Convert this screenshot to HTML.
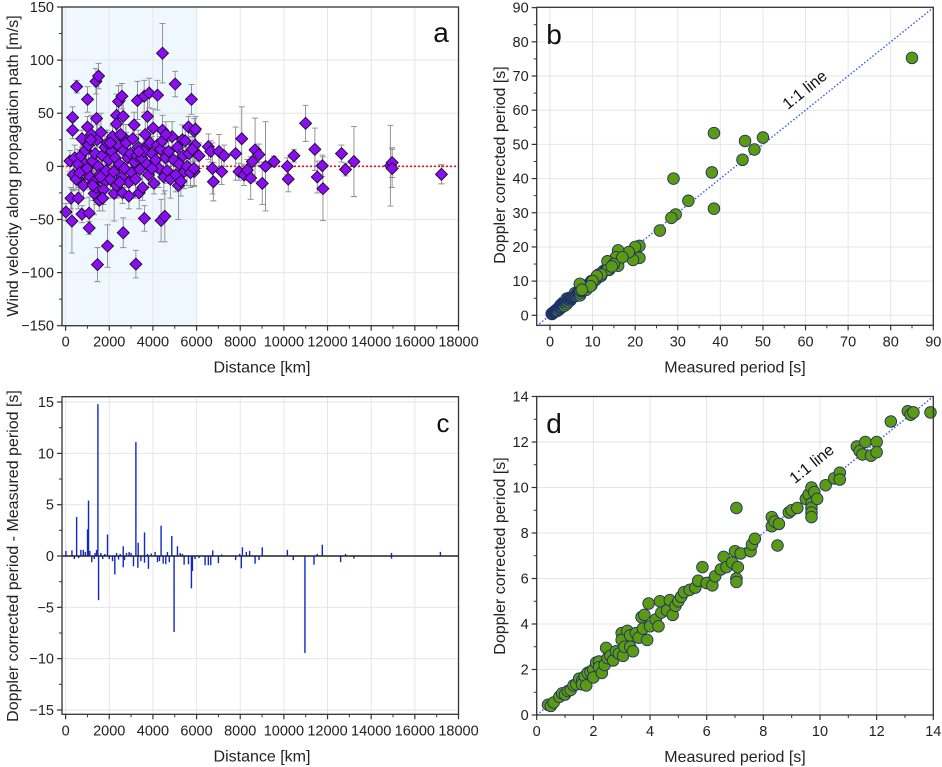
<!DOCTYPE html>
<html><head><meta charset="utf-8">
<style>
html,body{margin:0;padding:0;background:#fff;}
svg{display:block;font-family:"Liberation Sans",sans-serif;}
</style></head>
<body>
<svg id="fig" width="942" height="767" viewBox="0 0 942 767" xmlns="http://www.w3.org/2000/svg"></svg>
<script>
// ---------- Panel a data ----------
const aDist = [15,245,290,320,320,505,580,750,750,1005,1005,1080,1080,1390,1510,1420,1460,1920,2335,2335,2425,2580,2640,2640,3220,3290,3370,3600,3610,3750,3830,4210,4375,4440,4545,5020,5170,5765,5630,5890,5930,5890,5430,5350,4010,4440,3675,3140,2760,1815,2225,2610,1540,1310,930,625,850,
 200,350,420,480,560,650,700,820,900,980,1050,1120,1180,1230,1280,1350,1400,1450,1500,1560,1620,1680,1740,1800,1860,1920,1980,2050,2100,2150,2200,2270,2330,2400,2460,2520,2580,2650,2700,2780,2850,2900,2970,3030,3080,3150,3200,3260,3330,3400,3480,3530,3580,3650,3720,3800,3870,3950,4050,4120,4200,4280,4350,4430,4500,4580,4650,4720,4800,4880,4950,5050,5120,5200,5280,5380,5480,5560,5650,5720,5800,5880,5950,1250,1700,2050,2480,2900,3350,3950,4600,1150,1600,
 6115,6540,6650,6725,6770,7030,7150,7260,7790,7945,8070,8170,8320,8480,8555,8680,8860,9010,9160,9550,10160,10200,10460,10995,11420,11530,11760,11790,12640,12825,13210,14880,14960,14960,17220];
const aVel = [-43,-30,-51.5,46,34,75,-30,26,-45,63,37,-58,-44,80,85,45,-92.5,-75,48,40,61,66,47,-62.5,-92,62,-25,66,-49,47,69,67,-51,106.5,-47,77.5,-18,63,37,-5,20,33,-5,25,36,34,18.5,39,25.5,-14.5,-25.5,-25,-32,-25.5,-5,-13,3,
 5,-8,8,-12,2,-6,10,-18,15,-2,20,-10,30,5,-15,12,-20,25,0,-8,32,10,-22,18,-4,22,6,-12,14,28,-5,8,-18,20,2,30,-10,15,-2,22,8,-15,12,-6,26,4,-12,10,18,-3,8,-20,14,30,2,-8,22,12,-16,6,20,-2,16,24,-10,8,-4,14,-12,28,6,-8,18,2,-14,10,24,0,12,-6,16,-2,35,-18,-30,22,-15,-28,14,-2,30,25,-10,
 10,18.5,14,-2,-14.5,14,-5,10,12,-5,26,-8,-3.5,-11,4.5,15.5,11,-16,0,4.5,0,-12,10,40.5,16,-10,0.6,-21,12,-3,4.5,0.6,3.5,-2,-7.5];
const aErr = [8,10,30,10,8,6,10,8,8,12,10,6,15,12,12,30,16,20,20,8,15,12,15,14,13,18,15,15,12,20,14,14,20,28,24,12,32,14,10,14,15,12,16,14,18,14,14,12,14,14,26,10,10,20,10,12,14,
 10,15,12,10,14,12,18,12,14,10,16,12,18,10,14,12,16,14,10,12,18,12,14,16,10,12,14,18,12,10,14,16,12,14,10,16,12,14,18,10,12,14,16,12,10,14,18,12,16,10,14,12,16,18,10,12,14,16,10,12,14,18,12,10,16,14,12,10,18,14,12,16,10,12,14,16,12,18,10,14,12,16,12,14,12,10,14,12,16,14,12,14,10,
 12,12,10,24,18,16,12,10,25,8,30,10,10,20,12,30,10,20,42,5,8,12,6,17,20,15,10,30,8,6,33,38,14,18,9];

// ---------- Panel b data (large-period points; small ones shared with d below) ----------
const bMeasuredExtra = [85,38.5,45.8,50,48,45.2,38,29,38.5,32.5,29.5,28.5,25.8,21,20,21,19.5,18.5,16,16,16,15.5,13.5,13.5,12,11,10,9.5,7,7.5,15,17,14.5];
const bCorrectedExtra = [75.3,53.3,51,52,48.5,45.5,41.8,40,31.2,33.5,29.5,28.5,24.8,20.3,20,16.8,16.2,18.5,19,16,14.5,17,15.8,13.3,12,11.5,10,8.5,9.2,7.5,15,17,14.3];

// ---------- Panel d data ----------
const dMeasured = [0.4,0.5,0.6,0.8,0.9,1.0,1.1,1.2,1.3,1.4,1.5,1.6,1.6,1.7,1.75,1.8,1.9,2.0,2.0,2.1,2.2,2.2,2.3,2.4,2.45,2.5,2.6,2.7,2.8,2.9,3.0,3.0,3.05,3.1,3.2,3.3,3.3,3.4,3.5,3.6,3.7,3.8,3.75,3.9,3.95,4.0,4.2,4.3,4.35,4.4,4.6,4.7,4.8,4.9,5.0,5.1,5.2,5.4,5.6,5.7,5.85,6.0,6.2,6.3,6.5,6.6,6.7,6.9,7.0,7.05,7.05,7.05,7.1,7.2,7.55,7.6,7.7,8.3,8.3,8.4,8.5,8.55,8.9,9.0,9.2,9.5,9.6,9.7,9.7,9.7,9.7,9.7,9.8,9.9,10.2,10.5,10.7,10.7,11.3,11.4,11.5,11.6,11.8,12.0,12.0,12.5,13.1,13.2,13.3,13.9];
const dCorrected = [0.45,0.4,0.55,0.8,0.95,0.9,1.05,1.1,1.3,1.35,1.6,1.5,1.35,1.7,1.3,1.85,1.9,2.0,1.65,2.3,2.35,2.1,1.85,2.2,2.95,2.5,2.6,2.4,2.8,2.7,3.6,3.3,2.6,3.0,3.7,3.5,3.0,2.8,3.6,3.4,4.3,4.4,3.8,3.3,4.9,3.9,4.2,3.9,5.0,4.5,4.6,5.05,4.4,4.8,5.0,5.2,5.4,5.5,5.6,5.9,6.5,5.8,5.7,6.1,6.4,6.95,6.5,6.7,7.2,9.1,6.0,5.85,6.5,7.1,7.2,7.5,7.75,8.7,8.3,8.5,7.45,8.4,8.9,9.0,9.1,9.5,9.7,10.0,9.3,9.1,8.9,8.7,9.8,9.5,10.1,10.4,10.65,10.35,11.8,11.6,11.45,12.0,11.4,12.0,11.55,12.9,13.35,13.2,13.3,13.3];

// ---------- Panel c data ----------
const cDist = [15,290,505,700,810,1005,1050,1110,1310,1420,1480,1510,1615,1920,2000,2255,2335,2425,2640,2640,2790,2910,3110,3220,3325,3310,3615,3615,3795,3920,4100,4210,4375,4470,4590,4665,4865,4970,5125,5350,5430,5630,5765,5810,5930,6115,6390,6540,6650,6740,7000,7150,7790,7975,8050,8100,8280,8430,8680,8860,9010,10160,10430,10965,11380,11530,11760,12600,12825,13210,14930,14930,17170,
 400,600,900,1200,1350,1700,1800,2150,2500,2700,3000,3450,3750,4300,4750,5250];
const cDiff = [0.5,0.55,3.8,0.6,0.6,2.6,5.4,0.5,-0.3,0.6,14.8,-4.3,0.3,2.1,-0.3,-1.8,0.3,-0.35,0.95,-1.1,0.3,0.4,-1,11.1,1.3,-1.15,2.3,-0.65,-1.25,0.25,0.4,-0.6,2.95,-0.75,-0.8,0.4,1.95,-7.4,0.95,0.2,-0.85,-0.8,-3.15,-1.45,-0.3,-0.2,-0.9,-0.9,-0.9,0.55,-0.7,0.15,-0.4,0.2,-1.2,0.85,0.4,0.5,-0.75,-0.4,0.85,0.6,-0.4,-9.45,-0.85,0.2,1.1,-0.6,0.2,-0.25,0.3,-0.25,0.4,
 -0.3,-0.2,0.4,-0.6,0.3,-0.3,0.2,-0.5,0.2,-0.4,0.3,-0.5,0.2,-0.5,-0.6,0.3];

const NS='http://www.w3.org/2000/svg';
const svg=document.getElementById('fig');
function mk(tag,attrs,parent){const e=document.createElementNS(NS,tag);for(const k in attrs)e.setAttribute(k,attrs[k]);(parent||svg).appendChild(e);return e;}
function makeScale(d0,d1,p0,p1){return v=>p0+(v-d0)*(p1-p0)/(d1-d0);}

function drawAxes(g,c){
  const X=c.X,Y=c.Y;
  c.xticks.forEach(v=>{const gl=mk('line',{x1:X(v),x2:X(v),y1:c.top,y2:c.bottom,stroke:'#e6e6e6','stroke-width':1},g);});
  c.yticks.forEach(v=>{const gl=mk('line',{x1:c.left,x2:c.right,y1:Y(v),y2:Y(v),stroke:'#e6e6e6','stroke-width':1},g);});
}
function drawFrame(g,c,name){
  const X=c.X,Y=c.Y;
  const f=mk('rect',{x:c.left,y:c.top,width:c.right-c.left,height:c.bottom-c.top,fill:'none',stroke:'#333','stroke-width':1.3},g);
  
  const xa=mk('g',{},g);
  c.xticks.forEach(v=>{
    mk('line',{x1:X(v),x2:X(v),y1:c.bottom,y2:c.bottom+5,stroke:'#333','stroke-width':1.2},xa);
    const t=mk('text',{x:X(v),y:c.bottom+21,'text-anchor':'middle','font-size':14.5,fill:'#222'},xa);t.textContent=c.xfmt(v);
    
  });
  c.xminor.forEach(v=>mk('line',{x1:X(v),x2:X(v),y1:c.bottom,y2:c.bottom+3,stroke:'#333','stroke-width':1},xa));
  const ya=mk('g',{},g);
  c.yticks.forEach(v=>{
    mk('line',{x1:c.left-5,x2:c.left,y1:Y(v),y2:Y(v),stroke:'#333','stroke-width':1.2},ya);
    const t=mk('text',{x:c.left-8,y:Y(v)+5,'text-anchor':'end','font-size':14.5,fill:'#222'},ya);t.textContent=c.yfmt(v);
    
  });
  c.yminor.forEach(v=>mk('line',{x1:c.left-3,x2:c.left,y1:Y(v),y2:Y(v),stroke:'#333','stroke-width':1},ya));
  const xt=mk('text',{x:c.xtx,y:c.bottom+47,'text-anchor':'middle','font-size':16,fill:'#222'},g);xt.textContent=c.xtitle;
  
  const yt=mk('text',{x:0,y:0,'text-anchor':'middle','font-size':16,fill:'#222',transform:`translate(${c.ytx},${c.yty}) rotate(-90)`},g);yt.textContent=c.ytitle;
  
  const lt=mk('text',{x:c.lx,y:c.ly,'text-anchor':'middle','font-size':c.lsize,fill:'#111'},g);lt.textContent=c.letter;
  
}
const range=(a,b,s)=>{const r=[];for(let v=a;v<=b+1e-9;v+=s)r.push(+v.toFixed(6));return r;};
const fmtMinus=v=>v<0?'\u2212'+Math.abs(v):String(v);
const distTicks=range(0,18000,2000), distMinor=range(1000,17000,2000);

// ================= Panel a =================
{
const g=mk('g',{});
const c={left:62,right:458.5,top:7,bottom:325.7,xticks:distTicks,xminor:distMinor,yticks:range(-150,150,50),yminor:range(-125,125,50),
 xfmt:String,yfmt:fmtMinus,xtitle:'Distance [km]',ytitle:'Wind velocity along propagation path [m/s]',xtx:262,ytx:18,yty:166,letter:'a',lx:441,ly:42,lsize:28};
c.X=makeScale(-165,18000,c.left,c.right);c.Y=makeScale(-150,150,c.bottom,c.top);
const sh=mk('rect',{x:c.left,y:c.top,width:c.X(6000)-c.left,height:c.bottom-c.top,fill:'#eef8fe'},g);

drawAxes(g,c);
const zl=mk('line',{x1:c.left,x2:c.right,y1:c.Y(0),y2:c.Y(0),stroke:'#ee1111','stroke-width':1.6,'stroke-dasharray':'2,2'},g);

const eb=mk('g',{},g);
const pts=mk('g',{},g);
for(let i=0;i<aDist.length;i++){
  const x=c.X(aDist[i]),y1=c.Y(aVel[i]+aErr[i]),y2=c.Y(aVel[i]-aErr[i]);
  const l=mk('path',{d:`M${x},${y1}V${y2}M${x-3},${y1}H${x+3}M${x-3},${y2}H${x+3}`,stroke:'#8a8a8a','stroke-width':0.9,fill:'none'},eb);
  
}
for(let i=0;i<aDist.length;i++){
  const x=c.X(aDist[i]),y=c.Y(aVel[i]),r=6;
  const p=mk('path',{d:`M${x},${y-r}L${x+r},${y}L${x},${y+r}L${x-r},${y}Z`,fill:'#8b0ef2',stroke:'#1a0830','stroke-width':0.9},pts);
  
}
drawFrame(g,c,'panel-a');
}

// ================= Panel b =================
{
const g=mk('g',{});
const c={left:536.7,right:933.3,top:7.3,bottom:325.3,xticks:range(0,90,10),xminor:range(5,85,10),yticks:range(0,90,10),yminor:range(5,85,10),
 xfmt:String,yfmt:String,xtitle:'Measured period [s]',ytitle:'Doppler corrected period [s]',xtx:735,ytx:505,yty:165,letter:'b',lx:554,ly:44,lsize:28};
c.X=makeScale(-3.12,90,c.left,c.right);c.Y=makeScale(-2.92,90.1,c.bottom,c.top);
drawAxes(g,c);
const ol=mk('line',{x1:c.X(-3.12),y1:c.Y(-3.12),x2:c.X(90),y2:c.Y(90),stroke:'#3355ff','stroke-width':1.4,'stroke-dasharray':'1.5,2'},g);

const lt=mk('text',{x:0,y:0,'text-anchor':'middle','font-size':16,fill:'#111',transform:'translate(808,94) rotate(-38.8)'},g);lt.textContent='1:1 line';

const mx=dMeasured.concat(bMeasuredExtra),my=dCorrected.concat(bCorrectedExtra);
const pts=mk('g',{},g);
for(let i=0;i<mx.length;i++){
  const p=mk('circle',{cx:c.X(mx[i]),cy:c.Y(my[i]),r:5.8,fill:'#5c9a12',stroke:'#1f2f6a','stroke-width':0.9},pts);
  
}
drawFrame(g,c,'panel-b');
}

// ================= Panel c =================
{
const g=mk('g',{});
const c={left:62,right:458.5,top:396.7,bottom:714.3,xticks:distTicks,xminor:distMinor,yticks:range(-15,15,5),yminor:range(-12.5,12.5,5),
 xfmt:String,yfmt:fmtMinus,xtitle:'Distance [km]',ytitle:'Doppler corrected period - Measured period [s]',xtx:262,ytx:18,yty:556,letter:'c',lx:443,ly:432,lsize:26};
c.X=makeScale(-165,18000,c.left,c.right);c.Y=makeScale(-15.42,15.52,c.bottom,c.top);
drawAxes(g,c);
const bars=mk('g',{},g);
for(let i=0;i<cDist.length;i++){
  const b=mk('line',{x1:c.X(cDist[i]),x2:c.X(cDist[i]),y1:c.Y(0),y2:c.Y(cDiff[i]),stroke:'#1028c8','stroke-width':1.4},bars);
  
}
const zl=mk('line',{x1:c.left,x2:c.right,y1:c.Y(0),y2:c.Y(0),stroke:'#222','stroke-width':1.5},g);

drawFrame(g,c,'panel-c');
}

// ================= Panel d =================
{
const g=mk('g',{});
const c={left:536.7,right:933.3,top:396.5,bottom:715,xticks:range(0,14,2),xminor:range(1,13,2),yticks:range(0,14,2),yminor:range(1,13,2),
 xfmt:String,yfmt:String,xtitle:'Measured period [s]',ytitle:'Doppler corrected period [s]',xtx:735,ytx:505,yty:556,letter:'d',lx:554,ly:433,lsize:28};
c.X=makeScale(0,14,c.left,c.right);c.Y=makeScale(0,14,c.bottom,c.top);
drawAxes(g,c);
const ol=mk('line',{x1:c.X(0),y1:c.Y(0),x2:c.X(14),y2:c.Y(14),stroke:'#3355ff','stroke-width':1.4,'stroke-dasharray':'1.5,2'},g);

const lt=mk('text',{x:0,y:0,'text-anchor':'middle','font-size':16,fill:'#111',transform:'translate(815,468) rotate(-38.9)'},g);lt.textContent='1:1 line';

const pts=mk('g',{},g);
for(let i=0;i<dMeasured.length;i++){
  const p=mk('circle',{cx:c.X(dMeasured[i]),cy:c.Y(dCorrected[i]),r:5.8,fill:'#5c9a12',stroke:'#1f2f6a','stroke-width':0.9},pts);
  
}
drawFrame(g,c,'panel-d');
}
</script>
</body></html>
